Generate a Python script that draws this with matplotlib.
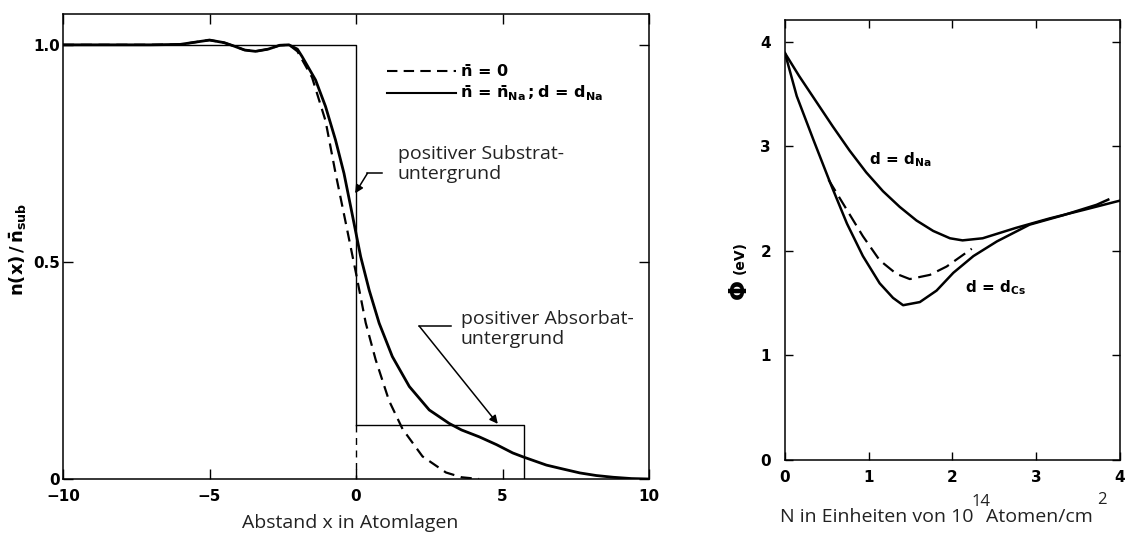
import matplotlib
matplotlib.use('Agg')
import matplotlib.pyplot as plt
from matplotlib.font_manager import FontProperties

# linkes Bild: Dichteprofil n(x)/n_sub
x_na = [-10, -7, -6, -5.5, -5, -4.5, -4.2, -3.8, -3.43, -3.0, -2.6, -2.29, -2.0, -1.84, -1.38, -1.04, -0.70,
        -0.41, -0.18, 0, 0.16, 0.45, 0.79, 1.24, 1.82, 2.5, 3.18, 3.6, 4.21, 4.8, 5.35, 5.7, 6.5, 7.0,
        7.64, 8.2, 8.78, 9.4, 10]
n_na = [1.0, 1.0, 1.001, 1.006, 1.011, 1.005, 0.998, 0.988, 0.985, 0.99, 0.999, 1.0, 0.99, 0.973, 0.919, 0.858, 0.781,
        0.704, 0.627, 0.566, 0.512, 0.435, 0.359, 0.282, 0.213, 0.159, 0.128, 0.113, 0.097, 0.079, 0.06, 0.051, 0.032, 0.024,
        0.014, 0.008, 0.004, 0.001, 0.0]
x_0 = [-10, -7, -6, -5.5, -5, -4.5, -4.2, -3.8, -3.43, -3.0, -2.6, -2.29, -2.0, -1.5, -1.04, -0.7, -0.35, 0,
       0.33, 0.67, 1.13, 1.59, 2.27, 3.07, 3.6, 4.2]
n_0 = [1.0, 1.0, 1.001, 1.006, 1.011, 1.005, 0.998, 0.988, 0.985, 0.99, 0.999, 1.0, 0.985, 0.925, 0.825, 0.705, 0.59, 0.474,
       0.36, 0.275, 0.18, 0.115, 0.052, 0.015, 0.004, 0.0]

# positiver Untergrund (Substrat bis x=0, Absorbat bis x_abs)
x_abs = 5.75
n_abs = 0.124

# rechtes Bild: Austrittsarbeit Phi(N)
N_na = [0, 0.17, 0.37, 0.57, 0.77, 0.97, 1.17, 1.37, 1.57, 1.77, 1.97, 2.12, 2.36, 2.56, 2.76, 3.16, 3.56, 3.95, 4.0]
phi_na = [3.89, 3.67, 3.43, 3.19, 2.96, 2.75, 2.57, 2.42, 2.29, 2.19, 2.12, 2.10, 2.12, 2.17, 2.22, 2.31, 2.39, 2.47, 2.48]
N_cs = [0, 0.14, 0.34, 0.54, 0.74, 0.93, 1.13, 1.29, 1.41, 1.61, 1.81, 2.01, 2.25, 2.53, 2.92, 3.32, 3.72, 3.86]
phi_cs = [3.89, 3.48, 3.06, 2.65, 2.26, 1.95, 1.69, 1.55, 1.48, 1.51, 1.62, 1.79, 1.95, 2.09, 2.25, 2.34, 2.44, 2.49]
N_0 = [0.52, 0.74, 0.93, 1.13, 1.33, 1.49, 1.73, 1.93, 2.23]
phi_0 = [2.68, 2.39, 2.14, 1.91, 1.78, 1.73, 1.77, 1.85, 2.02]

W, H = 1126, 533
fig = plt.figure(figsize=(W / 100, H / 100), dpi=100)

tick_font = FontProperties(family='DejaVu Sans', weight='bold', size=11)
text_font = dict(family='Open Sans', size=14, color='#222222')

# ---------- links ----------
ax1 = fig.add_axes([63 / W, 1 - 479 / H, (649 - 63) / W, (479 - 14) / H])
ax1.plot(x_na, n_na, color='k', lw=2.0)
ax1.plot(x_0, n_0, color='k', lw=1.6, linestyle=(0, (5, 3)))

ax1.plot([-10, 0, 0], [1.0, 1.0, n_abs], color='k', lw=1.0)
ax1.plot([0, 0], [n_abs, 0], color='k', lw=1.0, linestyle=(0, (5, 4)))
ax1.plot([0, x_abs, x_abs], [n_abs, n_abs, 0], color='k', lw=1.0)

ax1.set_xlim(-10, 10)
ax1.set_ylim(0, 1.071)
ax1.set_xticks([-10, -5, 0, 5, 10])
ax1.set_xticklabels(['−10', '−5', '0', '5', '10'])
ax1.set_yticks([0, 0.5, 1.0])
ax1.set_yticklabels(['0', '0.5', '1.0'])
ax1.tick_params(direction='in', top=True, right=True, length=7, width=1.0)
ax1.tick_params(axis='x', pad=7)
ax1.tick_params(axis='y', pad=2)
for lab in ax1.get_xticklabels() + ax1.get_yticklabels():
    lab.set_fontproperties(tick_font)
for sp in ax1.spines.values():
    sp.set_linewidth(1.1)

# Legende von Hand
ax1.plot([1.07, 3.41], [0.939, 0.939], color='k', lw=1.5, linestyle=(0, (5, 3)))
ax1.plot([1.07, 3.41], [0.889, 0.889], color='k', lw=1.5)
ax1.text(3.55, 0.939, r'$\mathbf{\bar{n}\,=\,0}$', fontsize=11.5, va='center', ha='left')
ax1.text(3.55, 0.889, r'$\mathbf{\bar{n}\,=\,\bar{n}_{Na}\,;d\,=\,d_{Na}}$', fontsize=11.5, va='center', ha='left')

# Beschriftungen mit Pfeilen
ax1.text(1.42, 0.725, 'positiver Substrat-\nuntergrund', ha='left', va='center', linespacing=1.15, **text_font)
ax1.plot([0.39, 0.9], [0.704, 0.704], color='k', lw=1.1)
ax1.annotate('', xy=(-0.03, 0.658), xytext=(0.39, 0.704),
             arrowprops=dict(arrowstyle='-|>', color='k', lw=1.1, mutation_scale=12, shrinkA=0, shrinkB=0))
ax1.text(3.58, 0.345, 'positiver Absorbat-\nuntergrund', ha='left', va='center', linespacing=1.15, **text_font)
ax1.plot([2.16, 3.24], [0.352, 0.352], color='k', lw=1.1)
ax1.annotate('', xy=(4.84, 0.127), xytext=(2.16, 0.352),
             arrowprops=dict(arrowstyle='-|>', color='k', lw=1.1, mutation_scale=12, shrinkA=0, shrinkB=0))

fig.text(18 / W, 1 - 249 / H, r'$\mathbf{n(x)\,/\,\bar{n}_{sub}}$', rotation=90, fontsize=13,
         ha='center', va='center')
fig.text(350 / W, 1 - 528 / H, 'Abstand x in Atomlagen', ha='center', va='baseline', **text_font)

# ---------- rechts ----------
ax2 = fig.add_axes([785 / W, 1 - 460 / H, (1120 - 785) / W, (460 - 19.7) / H])
ax2.plot(N_na, phi_na, color='k', lw=1.8)
ax2.plot(N_cs, phi_cs, color='k', lw=1.8)
ax2.plot(N_0, phi_0, color='k', lw=1.6, linestyle=(0, (6, 3)))
ax2.set_xlim(0, 4)
ax2.set_ylim(0, 4.21)
ax2.set_xticks([0, 1, 2, 3, 4])
ax2.set_yticks([0, 1, 2, 3, 4])
ax2.tick_params(direction='in', top=True, right=True, length=6, width=1.0)
ax2.tick_params(axis='x', pad=7)
ax2.tick_params(axis='y', pad=10)
for lab in ax2.get_xticklabels() + ax2.get_yticklabels():
    lab.set_fontproperties(tick_font)
for sp in ax2.spines.values():
    sp.set_linewidth(1.1)

ax2.text(1.0, 2.87, r'$\mathbf{d\,=\,d_{Na}}$', fontsize=11, va='center', ha='left')
ax2.text(2.15, 1.65, r'$\mathbf{d\,=\,d_{Cs}}$', fontsize=11, va='center', ha='left')

fig.text(740 / W, 1 - 291 / H, r'$\mathbf{\Phi}$', rotation=90, fontsize=17, ha='center', va='center')
fig.text(740 / W, 1 - 257 / H, '(eV)', rotation=90, fontsize=10, weight='bold', ha='center', va='center')

fig.text(973 / W, 1 - 522 / H, 'N in Einheiten von 10', ha='right', va='baseline', **text_font)
fig.text(986 / W, 1 - 522 / H, 'Atomen/cm', ha='left', va='baseline', **text_font)
fig.text(981 / W, 1 - 502 / H, '14', ha='center', va='center', family='Open Sans', size=12, color='#222222')
fig.text(1102 / W, 1 - 500 / H, '2', ha='center', va='center', family='Open Sans', size=12, color='#222222')

fig.savefig('out.png', dpi=100)
